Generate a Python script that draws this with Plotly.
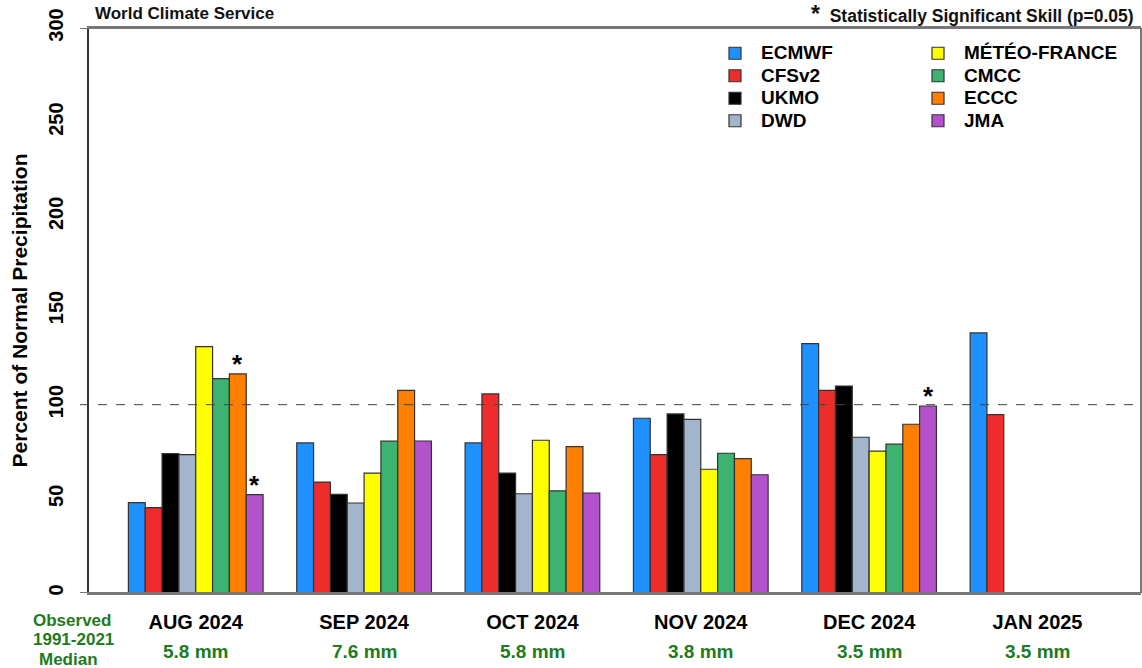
import plotly.graph_objects as go

months = ["AUG 2024", "SEP 2024", "OCT 2024", "NOV 2024", "DEC 2024", "JAN 2025"]
medians = ["5.8 mm", "7.6 mm", "5.8 mm", "3.8 mm", "3.5 mm", "3.5 mm"]

models = ["ECMWF", "CFSv2", "UKMO", "DWD", "MÉTÉO-FRANCE", "CMCC", "ECCC", "JMA"]
colors = ["#1E90FF", "#EE2C2C", "#000000", "#A2B5CD", "#FFFF00", "#3CB371", "#FF7F00", "#B452CD"]

ecmwf = [48.0, 79.7, 79.7, 92.8, 132.4, 138.1]
cfsv2 = [45.3, 58.9, 105.7, 73.5, 107.6, 94.7]
ukmo = [74.0, 52.4, 63.7, 95.1, 109.9, None]
dwd = [73.5, 47.8, 52.7, 92.2, 82.7, None]
meteofrance = [130.8, 63.6, 81.1, 65.7, 75.3, None]
cmcc = [113.8, 80.6, 54.2, 74.2, 79.0, None]
eccc = [116.3, 107.6, 77.7, 71.3, 89.6, None]
jma = [52.2, 80.7, 53.1, 62.8, 99.3, None]
series = [ecmwf, cfsv2, ukmo, dwd, meteofrance, cmcc, eccc, jma]

# statistically significant skill: (model index, month index)
significant = [(6, 0), (7, 0), (7, 4)]

FONT = "Liberation Sans, Arial, sans-serif"
GREEN = "#1E7B1E"

fig = go.Figure()
for i, (name, vals, col) in enumerate(zip(models, series, colors)):
    fig.add_trace(go.Bar(
        x=months, y=vals, name=f'<span style="font-size:19px">{name}</span>',
        marker=dict(color=col, line=dict(color="#333333", width=1.2)),
        legend="legend" if i < 4 else "legend2",
    ))

n = len(models)
groupw = 0.8
for mi, ti in significant:
    xpos = ti - groupw / 2 + groupw / n * (mi + 0.5)
    fig.add_annotation(x=xpos, y=series[mi][ti], xref="x", yref="y", text="*",
                       showarrow=False, yanchor="bottom", yshift=-7,
                       font=dict(family=FONT, size=26, color="black", weight="bold"))

for ti, med in enumerate(medians):
    fig.add_annotation(x=ti, y=-0.1027, xref="x", yref="paper", text=med,
                       showarrow=False, yanchor="middle",
                       font=dict(family=FONT, size=19, color=GREEN, weight="bold"))

for txt, px, py in [("Observed", 72, 620), ("1991-2021", 73.5, 639.5), ("Median", 68, 659)]:
    fig.add_annotation(x=(px - 89) / 1052, y=(593 - py) / 565, xref="paper", yref="paper",
                       text=txt, showarrow=False, xanchor="center", yanchor="middle",
                       font=dict(family=FONT, size=17, color=GREEN, weight="bold"))

fig.add_annotation(x=(93 - 89) / 1052, y=(593 - 14) / 565, xref="paper", yref="paper",
                   text="World Climate Service", showarrow=False, xanchor="left", yanchor="middle",
                   font=dict(family=FONT, size=17, color="#111111", weight="bold"))
fig.add_annotation(x=(1136 - 89) / 1052, y=(593 - 14) / 565, xref="paper", yref="paper",
                   text='<span style="font-size:23px">*</span>  Statistically Significant Skill (p=0.05)',
                   showarrow=False, xanchor="right", yanchor="middle",
                   font=dict(family=FONT, size=17.5, color="#111111", weight="bold"))

# reference line at 100%
fig.add_shape(type="line", xref="paper", yref="y", x0=-9 / 1052, x1=1, y0=100, y1=100,
              line=dict(color="#444444", width=1, dash="dash"))
# box lines overshooting left like the original
for yv in (0, 300):
    fig.add_shape(type="line", xref="paper", yref="y", x0=-9 / 1052, x1=1, y0=yv, y1=yv,
                  line=dict(color="#777777", width=2))

legend_common = dict(
    font=dict(family=FONT, size=15, color="black", weight="bold"),
    bgcolor="rgba(0,0,0,0)", borderwidth=0, orientation="v",
    itemwidth=42, xanchor="left", yanchor="top", traceorder="normal",
)
fig.update_layout(
    width=1142, height=668,
    margin=dict(l=89, r=1, t=28, b=75, autoexpand=False),
    paper_bgcolor="white", plot_bgcolor="white",
    barmode="group", bargap=0.2, bargroupgap=0,
    showlegend=True,
    legend=dict(x=(709 - 89) / 1052, y=(593 - 37) / 565, **legend_common),
    legend2=dict(x=(912 - 89) / 1052, y=(593 - 37) / 565, **legend_common),
    font=dict(family=FONT, color="black"),
)
fig.update_xaxes(
    type="category", range=[-0.634, 5.615], showgrid=False, zeroline=False,
    showline=True, linecolor="#777777", linewidth=2, mirror=True, ticks="",
    tickfont=dict(family=FONT, size=20, color="black", weight="bold"),
    ticklabelstandoff=10,
)
fig.update_yaxes(
    range=[0, 300], tickvals=[0, 50, 100, 150, 200, 250, 300], showgrid=False,
    zeroline=False, showline=True, linecolor="#333333", linewidth=1.5, mirror=False,
    ticks="", tickangle=-90,
    tickfont=dict(family=FONT, size=20, color="black", weight="bold"),
    ticklabelstandoff=16,
    title=dict(text="Percent of Normal Precipitation", standoff=12,
               font=dict(family=FONT, size=21, color="black", weight="bold")),
)
fig.add_shape(type="line", xref="paper", yref="paper", x0=1, x1=1, y0=0, y1=1,
              line=dict(color="#777777", width=2))

fig.write_html("out.html")
